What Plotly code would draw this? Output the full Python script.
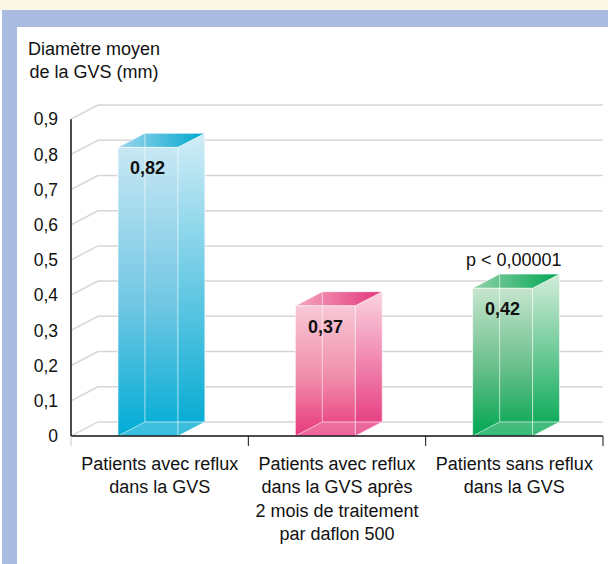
import plotly.graph_objects as go

# ---------------- data ----------------
categories = [
    "Patients avec reflux<br>dans la GVS",
    "Patients avec reflux<br>dans la GVS après<br>2 mois de traitement<br>par daflon 500",
    "Patients sans reflux<br>dans la GVS",
]
values = [0.82, 0.37, 0.42]
y_tickvals = [0, 0.1, 0.2, 0.3, 0.4, 0.5, 0.6, 0.7, 0.8, 0.9]
y_ticktext = ["0", "0,1", "0,2", "0,3", "0,4", "0,5", "0,6", "0,7", "0,8", "0,9"]
title_text = "Diamètre moyen<br>de la GVS (mm)"
p_value_text = "p < 0,00001"

# ---------------- styles ----------------
front_scales = [
    [[0, "#00acd5"], [0.45, "#6fc6e3"], [1, "#c8e7f4"]],
    [[0, "#e8387b"], [0.45, "#f08dab"], [1, "#f8c8d6"]],
    [[0, "#00a651"], [0.45, "#66be89"], [1, "#c6e5ce"]],
]
side_scales = [
    [[0, "#00a9d2"], [1, "#d2ecf7"]],
    [[0, "#e5327a"], [1, "#fad4e0"]],
    [[0, "#00a651"], [1, "#d4ecda"]],
]
top_scales = [
    [[0, "#9dd7ec"], [1, "#00a7cf"]],
    [[0, "#f5a9c1"], [1, "#e3357a"]],
    [[0, "#92d1aa"], [1, "#00a651"]],
]
FONT = "Liberation Sans"
GRID = "#d6d6d6"
FRONT_OFFSET = -0.235
FRONT_W = 0.338
DX = 0.152
DY = 0.04
X0, X1 = -0.5, 2.5
Y0, Y1 = 0, 1

# plot area in pixels (for background decoration only)
L, R, T, B = 71, 5, 84, 128
W, H = 608, 564
PW = W - L - R
PH = H - T - B


def px(xp):
    return (xp - L) / PW


def py(yp):
    return (H - B - yp) / PH


def xpaper(xv):
    return (xv - X0) / (X1 - X0)


def ypaper(yv):
    return (yv - Y0) / (Y1 - Y0)


fig = go.Figure()

# back-wall / floor gridlines (3D)
for g in y_tickvals:
    fig.add_trace(go.Scatter(
        x=[X0, X0 + DX, X1], y=[g, g + DY, g + DY], mode="lines",
        line=dict(color=GRID, width=1.5), hoverinfo="skip", showlegend=False))

# bars
for i, v in enumerate(values):
    xl = i + FRONT_OFFSET
    xr = xl + FRONT_W
    # side face
    fig.add_trace(go.Scatter(
        x=[xr, xr + DX, xr + DX, xr, xr], y=[0, DY, v + DY, v, 0],
        mode="none", fill="toself",
        fillgradient=dict(type="vertical", colorscale=side_scales[i]),
        hoverinfo="skip", showlegend=False))
    # top face
    fig.add_trace(go.Scatter(
        x=[xl, xr, xr + DX, xl + DX, xl], y=[v, v, v + DY, v + DY, v],
        mode="none", fill="toself",
        fillgradient=dict(type="horizontal", colorscale=top_scales[i]),
        hoverinfo="skip", showlegend=False))
    # front face
    fig.add_trace(go.Scatter(
        x=[xl, xr, xr, xl, xl], y=[0, 0, v, v, 0],
        mode="none", fill="toself",
        fillgradient=dict(type="vertical", colorscale=front_scales[i]),
        hoverinfo="skip", showlegend=False))
    # bottom face seen through the glass
    fig.add_trace(go.Scatter(
        x=[xl, xr, xr + DX, xl + DX, xl], y=[0, 0, DY, DY, 0],
        mode="none", fill="toself", fillcolor="rgba(255,255,255,0.22)",
        hoverinfo="skip", showlegend=False))
    # edges
    ex = [xl, xr, xr, xl, xl, None,
          xr, xr + DX, xr + DX, xr, None,
          xl, xl + DX, xr + DX, None,
          xl, xl + DX, xl + DX, None,
          xl + DX, xr + DX]
    ey = [0, 0, v, v, 0, None,
          0, DY, v + DY, v, None,
          v, v + DY, v + DY, None,
          0, DY, v + DY, None,
          DY, DY]
    fig.add_trace(go.Scatter(
        x=ex, y=ey, mode="lines",
        line=dict(color="rgba(255,255,255,0.6)", width=1),
        hoverinfo="skip", showlegend=False))
    # value label
    fig.add_annotation(
        x=xl + FRONT_W / 2, y=v, yshift=-21, showarrow=False,
        text="<b>" + f"{v:.2f}".replace(".", ",") + "</b>",
        font=dict(family=FONT, size=18, color="#111111"))

# p-value
fig.add_annotation(
    x=2, y=values[2], yshift=28, showarrow=False, text=p_value_text,
    font=dict(family=FONT, size=18, color="#111111"))

# axis title
fig.add_annotation(
    xref="paper", yref="paper", x=px(94), y=py(60), showarrow=False,
    text=title_text, align="center", xanchor="center", yanchor="middle",
    font=dict(family=FONT, size=18, color="#111111"))

shapes = [
    # page decoration
    dict(type="rect", xref="paper", yref="paper", x0=px(0), x1=px(W), y0=py(0), y1=py(10),
         fillcolor="#fdf7e7", line_width=0, layer="below"),
    dict(type="rect", xref="paper", yref="paper", x0=px(2), x1=px(W), y0=py(10), y1=py(H),
         fillcolor="#aabde0", line_width=0, layer="below"),
    dict(type="rect", xref="paper", yref="paper", x0=px(17), x1=px(W), y0=py(27), y1=py(H),
         fillcolor="#ffffff", line_width=0, layer="below"),
    # y axis line and baseline
    dict(type="line", xref="paper", yref="paper", x0=0, x1=0,
         y0=ypaper(0), y1=ypaper(y_tickvals[-1]),
         line=dict(color="#111111", width=1.5)),
    dict(type="line", xref="paper", yref="paper", x0=0, x1=1, y0=0, y1=0,
         line=dict(color="#111111", width=1.5)),
]
# category separator ticks
for k, xt in enumerate([X0, 0.5, 1.5, X1]):
    shapes.append(dict(type="line", xref="paper", yref="paper", ysizemode="pixel", yanchor=0,
                       x0=xpaper(xt), x1=xpaper(xt), y0=0, y1=-10,
                       line=dict(color="#c8c8c8" if k == 0 else "#111111", width=1)))

fig.update_layout(
    template="none",
    width=W, height=H,
    margin=dict(l=L, r=R, t=T, b=B, pad=0),
    paper_bgcolor="#ffffff",
    plot_bgcolor="rgba(0,0,0,0)",
    showlegend=False,
    shapes=shapes,
    xaxis=dict(range=[X0, X1], tickmode="array", tickvals=[0, 1, 2], ticktext=categories,
               ticks="", showgrid=False, zeroline=False, showline=False, automargin=False,
               ticklabelstandoff=15,
               tickfont=dict(family=FONT, size=18, color="#111111"), fixedrange=True),
    yaxis=dict(range=[Y0, Y1], tickmode="array", tickvals=y_tickvals, ticktext=y_ticktext,
               ticks="", showgrid=False, zeroline=False, showline=False, automargin=False,
               ticklabelstandoff=12,
               tickfont=dict(family=FONT, size=17.5, color="#111111"), fixedrange=True),
)

fig.write_html(
    "out.html",
    config={"displayModeBar": False},
    post_script="document.body.style.margin='0';document.body.style.overflow='hidden';",
)
